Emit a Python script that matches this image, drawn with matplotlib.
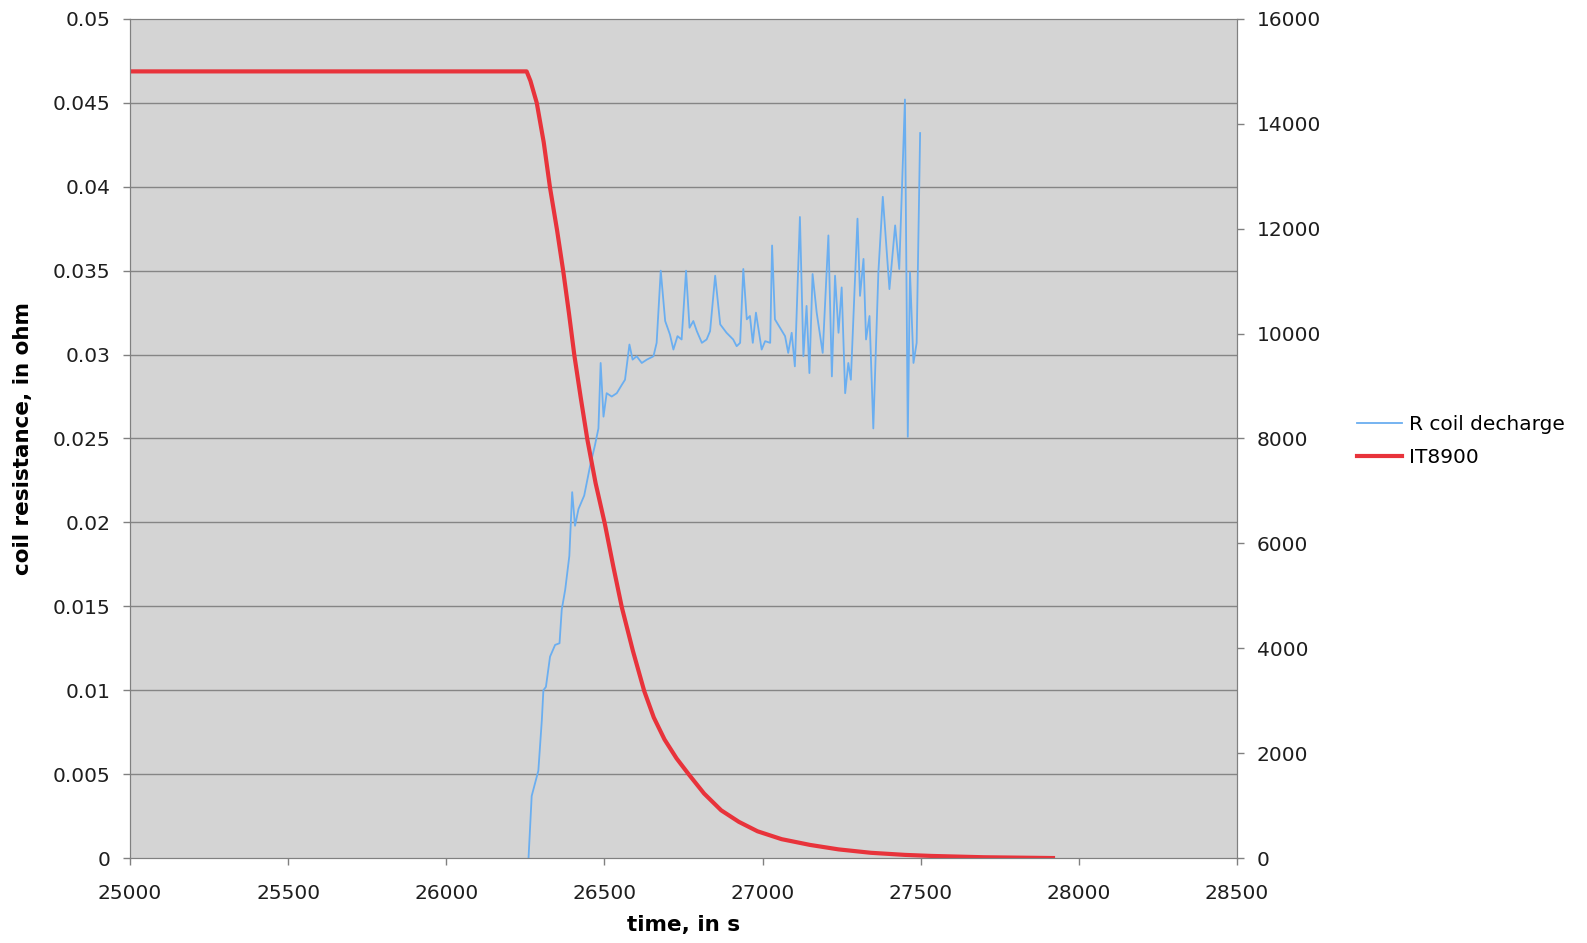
import matplotlib
matplotlib.use('Agg')
import matplotlib.pyplot as plt
from matplotlib.ticker import FuncFormatter

# R coil decharge (left axis, ohm)
blue_t = [26260, 26270, 26291, 26302, 26307, 26315, 26328, 26344, 26358, 26365,
          26376, 26389, 26398, 26407, 26418, 26436, 26455, 26470, 26481, 26488,
          26497, 26507, 26523, 26539, 26555, 26565, 26579, 26589, 26602, 26618,
          26634, 26655, 26665, 26678, 26692, 26707, 26718, 26731, 26744, 26758,
          26769, 26781, 26792, 26808, 26823, 26834, 26850, 26866, 26886, 26907,
          26918, 26929, 26939, 26950, 26960, 26969, 26979, 26997, 27008, 27024,
          27030, 27039, 27055, 27071, 27081, 27092, 27102, 27118, 27129, 27139,
          27148, 27158, 27171, 27190, 27208, 27219, 27229, 27240, 27250, 27261,
          27271, 27279, 27300, 27308, 27319, 27327, 27338, 27350, 27366, 27380,
          27401, 27419, 27432, 27450, 27459, 27466, 27477, 27487, 27498]
blue_r = [0.0, 0.0037, 0.0052, 0.0082, 0.0100, 0.0102, 0.0120, 0.0127, 0.0128, 0.0148,
          0.0160, 0.0180, 0.0218, 0.0198, 0.0208, 0.0216, 0.0234, 0.0246, 0.0256, 0.0295,
          0.0263, 0.0277, 0.0275, 0.0277, 0.0282, 0.0285, 0.0306, 0.0297, 0.0299, 0.0295,
          0.0297, 0.0299, 0.0307, 0.0350, 0.0320, 0.0312, 0.0303, 0.0311, 0.0309, 0.0350,
          0.0316, 0.0320, 0.0314, 0.0307, 0.0309, 0.0314, 0.0347, 0.0318, 0.0313, 0.0309,
          0.0305, 0.0307, 0.0351, 0.0321, 0.0323, 0.0307, 0.0325, 0.0303, 0.0308, 0.0307,
          0.0365, 0.0321, 0.0316, 0.0311, 0.0301, 0.0313, 0.0293, 0.0382, 0.0299, 0.0329,
          0.0289, 0.0348, 0.0325, 0.0301, 0.0371, 0.0287, 0.0347, 0.0313, 0.0340, 0.0277,
          0.0295, 0.0285, 0.0381, 0.0335, 0.0357, 0.0309, 0.0323, 0.0256, 0.0349, 0.0394,
          0.0339, 0.0377, 0.0351, 0.0452, 0.0251, 0.0349, 0.0295, 0.0307, 0.0432]

# IT8900 (right axis)
red_t = [25000, 26254, 26266, 26286, 26308, 26328, 26350, 26370, 26388, 26405,
         26425, 26446, 26472, 26501, 26528, 26555, 26590, 26626, 26656, 26690,
         26728, 26766, 26815, 26869, 26925, 26984, 27060, 27150, 27240, 27342,
         27450, 27534, 27700, 27918]
red_v = [15000, 15000, 14820, 14400, 13650, 12780, 11980, 11180, 10380, 9580,
         8780, 7980, 7150, 6380, 5560, 4780, 3950, 3180, 2680, 2260,
         1900, 1600, 1230, 910, 690, 510, 360, 250, 165, 100,
         60, 40, 15, 0]

left_ticks = [i * 0.005 for i in range(11)]
right_ticks = list(range(0, 16001, 2000))
x_ticks = list(range(25000, 28501, 500))

fig = plt.figure(figsize=(15.87, 9.43), dpi=100)
ax = fig.add_axes([0.0819, 0.0901, 0.6976, 0.8898])
ax2 = ax.twinx()

ax.set_facecolor('#d4d4d4')
ax.set_zorder(1)
ax2.set_zorder(2)
ax2.patch.set_visible(False)

for y in left_ticks[1:-1]:
    ax.axhline(y, color='#858585', linewidth=1.0, zorder=0)

l1, = ax2.plot([], [], color='#6aaef0', linewidth=1.3, label='R coil decharge')
ax.plot(blue_t, blue_r, color='#6aaef0', linewidth=1.3, zorder=3)
l2, = ax2.plot(red_t, red_v, color='#e8333b', linewidth=3, label='IT8900')

ax.set_xlim(25000, 28500)
ax.set_ylim(0, 0.05)
ax2.set_ylim(0, 16000)
ax.set_xticks(x_ticks)
ax.set_yticks(left_ticks)
ax2.set_yticks(right_ticks)
ax.yaxis.set_major_formatter(FuncFormatter(lambda v, p: f'{v:g}'))

for a in (ax, ax2):
    for s in a.spines.values():
        s.set_color('#808080')
    a.tick_params(labelsize=14.5, colors='#808080', labelcolor='#1e1e1e',
                  length=5, width=1, pad=9)
ax.tick_params(axis='x', pad=14)

ax.set_xlabel('time, in s', fontsize=15.5, fontweight='bold')
ax.set_ylabel('coil resistance, in ohm', fontsize=15.5, fontweight='bold')
ax.xaxis.set_label_coords(0.5, -0.068)
ax.yaxis.set_label_coords(-0.088, 0.5)

fig.legend(handles=[l1, l2], loc='upper left', bbox_to_anchor=(0.855, 0.5596),
           frameon=False, fontsize=14.5, handlelength=2.25, handletextpad=0.35,
           labelspacing=0.7, borderaxespad=0, borderpad=0)

fig.savefig('out.png', dpi=100)
